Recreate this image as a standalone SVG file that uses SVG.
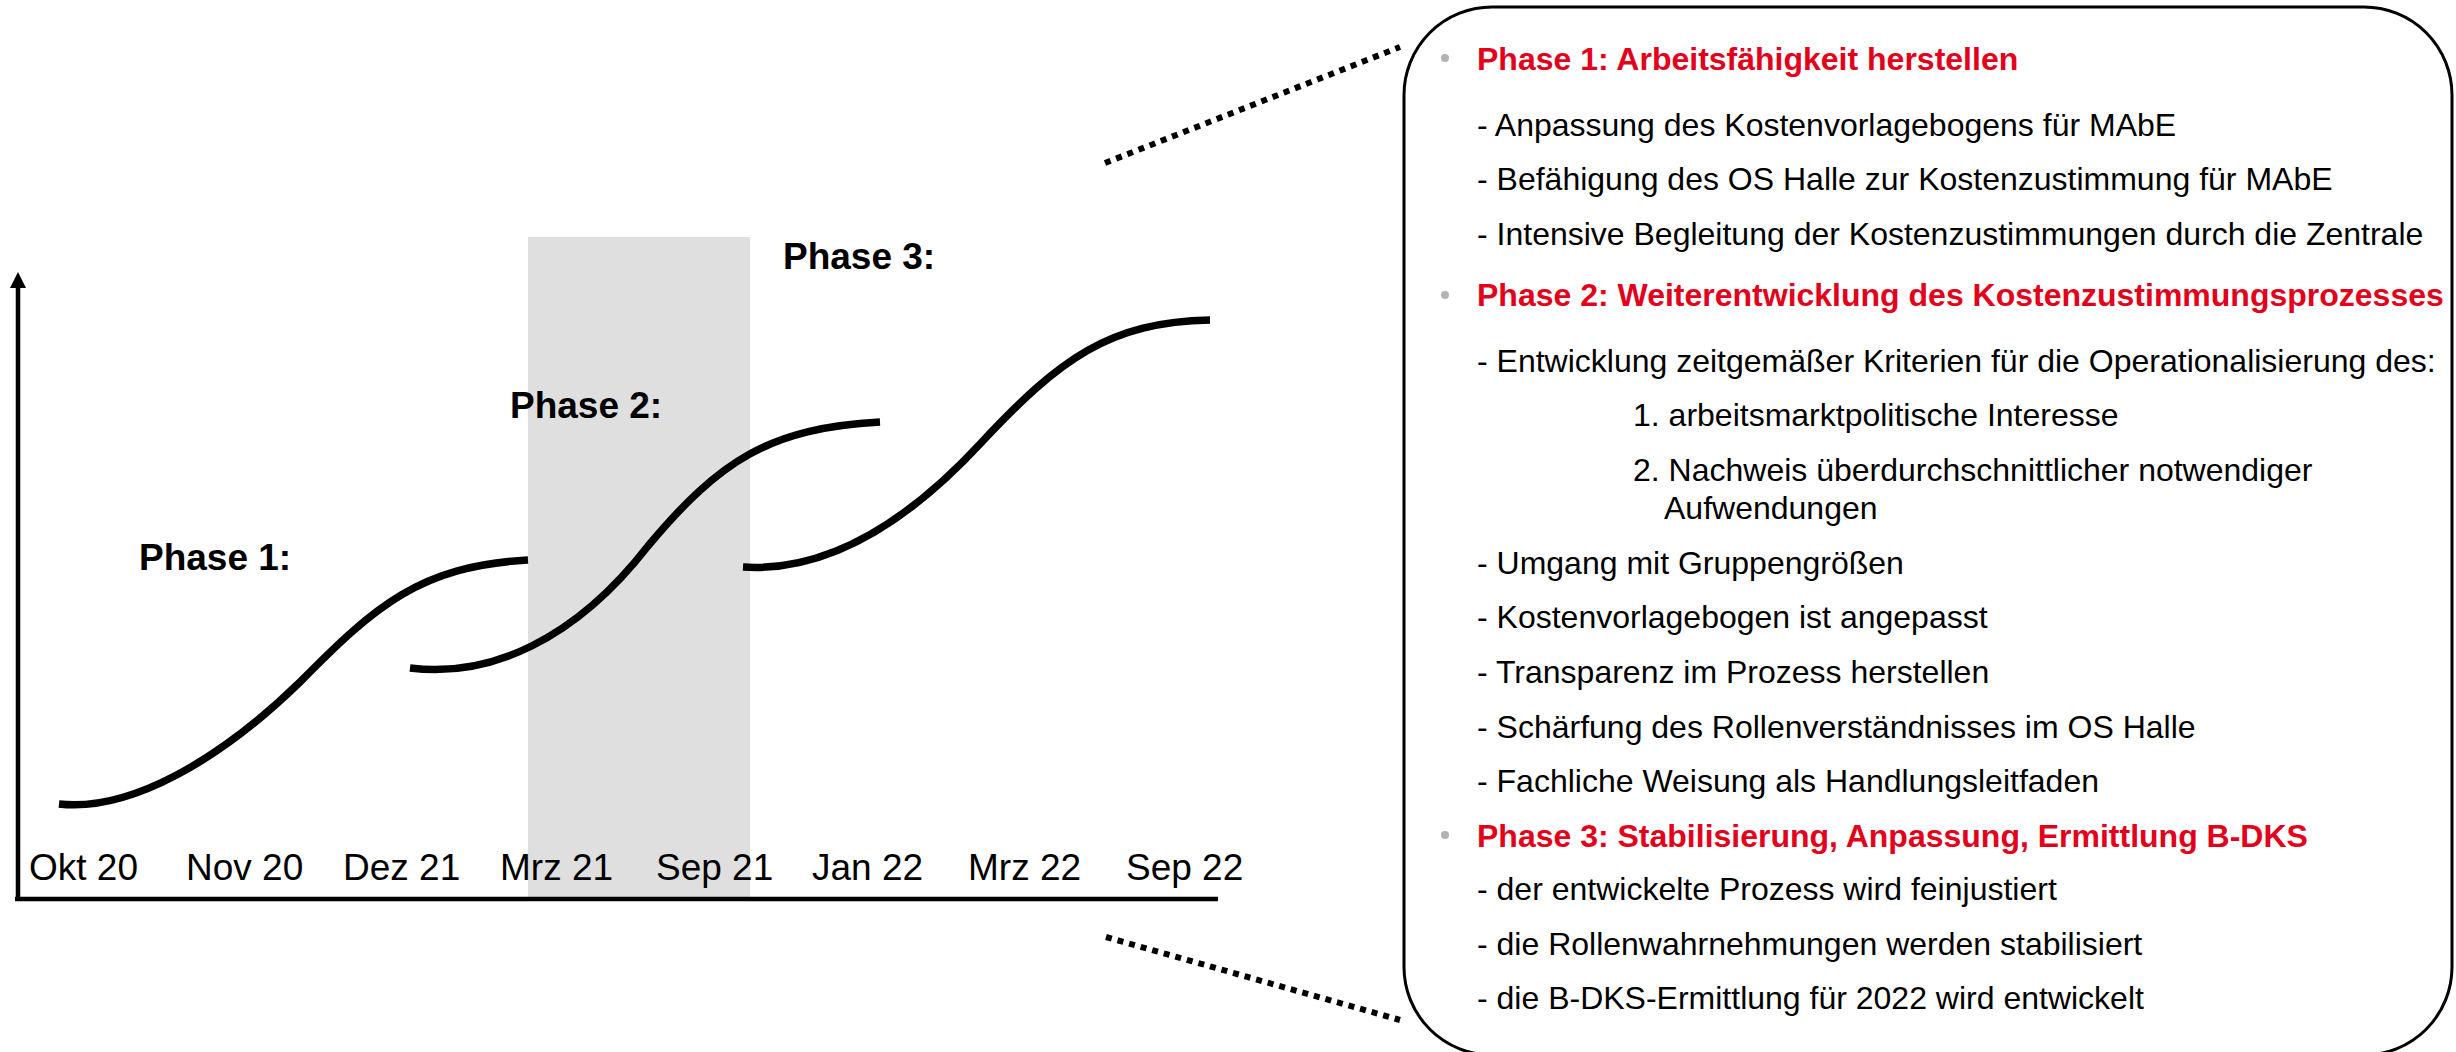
<svg xmlns="http://www.w3.org/2000/svg" width="2456" height="1052" viewBox="0 0 2456 1052">
<style>
.axis{stroke:#000;stroke-width:4.5;fill:none}
.curve{stroke:#000;stroke-width:7.5;fill:none}
.dots{stroke:#000;stroke-width:6;fill:none;stroke-dasharray:6 6}
.lbl{font-family:"Liberation Sans",Arial,sans-serif;font-size:37px;fill:#000}
.ph{font-family:"Liberation Sans",Arial,sans-serif;font-size:37px;font-weight:bold;fill:#000}
.t{font-family:"Liberation Sans",Arial,sans-serif;font-size:32px;fill:#000}
.h{font-family:"Liberation Sans",Arial,sans-serif;font-size:32px;font-weight:bold;fill:#e3001b}
.bul{fill:#b3b3b3}
</style>
<rect width="2456" height="1052" fill="#fff"/>
<g id="phase2-band"><rect x="528" y="237" width="222" height="662" fill="#dfdfdf"/></g>
<g id="axes">
<line class="axis" x1="18" y1="901" x2="18" y2="285"/>
<polygon points="18,272 10,288 26,288" fill="#000"/>
<line class="axis" x1="15" y1="899" x2="1218" y2="899"/>
</g>
<g id="axis-labels">
<text class="lbl" x="29" y="880">Okt 20</text>
<text class="lbl" x="186" y="880">Nov 20</text>
<text class="lbl" x="343" y="880">Dez 21</text>
<text class="lbl" x="500" y="880">Mrz 21</text>
<text class="lbl" x="656" y="880">Sep 21</text>
<text class="lbl" x="812" y="880">Jan 22</text>
<text class="lbl" x="968" y="880">Mrz 22</text>
<text class="lbl" x="1126" y="880">Sep 22</text>
</g>
<g id="phase1-curve">
<path class="curve" d="M59,804 C130,812 220,760 300,682 C375,606 420,566 528,560"/>
<text class="ph" x="139" y="570">Phase 1:</text>
</g>
<g id="phase2-curve">
<path class="curve" d="M410,668 C490,678 575,640 648,546 C720,460 770,428 880,422"/>
<text class="ph" x="510" y="418">Phase 2:</text>
</g>
<g id="phase3-curve">
<path class="curve" d="M743,567 C820,572 900,530 980,444 C1060,358 1110,322 1210,320"/>
<text class="ph" x="783" y="269">Phase 3:</text>
</g>
<g id="connectors">
<line class="dots" x1="1105" y1="163" x2="1400" y2="47"/>
<line class="dots" x1="1106" y1="937" x2="1400" y2="1020"/>
</g>
<g id="details-panel">
<rect x="1404" y="7" width="1048" height="1048" rx="88" ry="88" fill="none" stroke="#000" stroke-width="3"/>
<circle class="bul" cx="1445" cy="58" r="4"/>
<text class="h" x="1477" y="70">Phase 1: Arbeitsfähigkeit herstellen</text>
<text class="t" x="1477" y="136">- Anpassung des Kostenvorlagebogens für MAbE</text>
<text class="t" x="1477" y="190">- Befähigung des OS Halle zur Kostenzustimmung für MAbE</text>
<text class="t" x="1477" y="245">- Intensive Begleitung der Kostenzustimmungen durch die Zentrale</text>
<circle class="bul" cx="1445" cy="295" r="4"/>
<text class="h" x="1477" y="306">Phase 2: Weiterentwicklung des Kostenzustimmungsprozesses</text>
<text class="t" x="1477" y="372">- Entwicklung zeitgemäßer Kriterien für die Operationalisierung des:</text>
<text class="t" x="1633" y="426">1. arbeitsmarktpolitische Interesse</text>
<text class="t" x="1633" y="481">2. Nachweis überdurchschnittlicher notwendiger</text>
<text class="t" x="1664" y="519">Aufwendungen</text>
<text class="t" x="1477" y="574">- Umgang mit Gruppengrößen</text>
<text class="t" x="1477" y="628">- Kostenvorlagebogen ist angepasst</text>
<text class="t" x="1477" y="683">- Transparenz im Prozess herstellen</text>
<text class="t" x="1477" y="738">- Schärfung des Rollenverständnisses im OS Halle</text>
<text class="t" x="1477" y="792">- Fachliche Weisung als Handlungsleitfaden</text>
<circle class="bul" cx="1445" cy="835" r="4"/>
<text class="h" x="1477" y="847">Phase 3: Stabilisierung, Anpassung, Ermittlung B-DKS</text>
<text class="t" x="1477" y="900">- der entwickelte Prozess wird feinjustiert</text>
<text class="t" x="1477" y="955">- die Rollenwahrnehmungen werden stabilisiert</text>
<text class="t" x="1477" y="1009">- die B-DKS-Ermittlung für 2022 wird entwickelt</text>
</g>
</svg>
